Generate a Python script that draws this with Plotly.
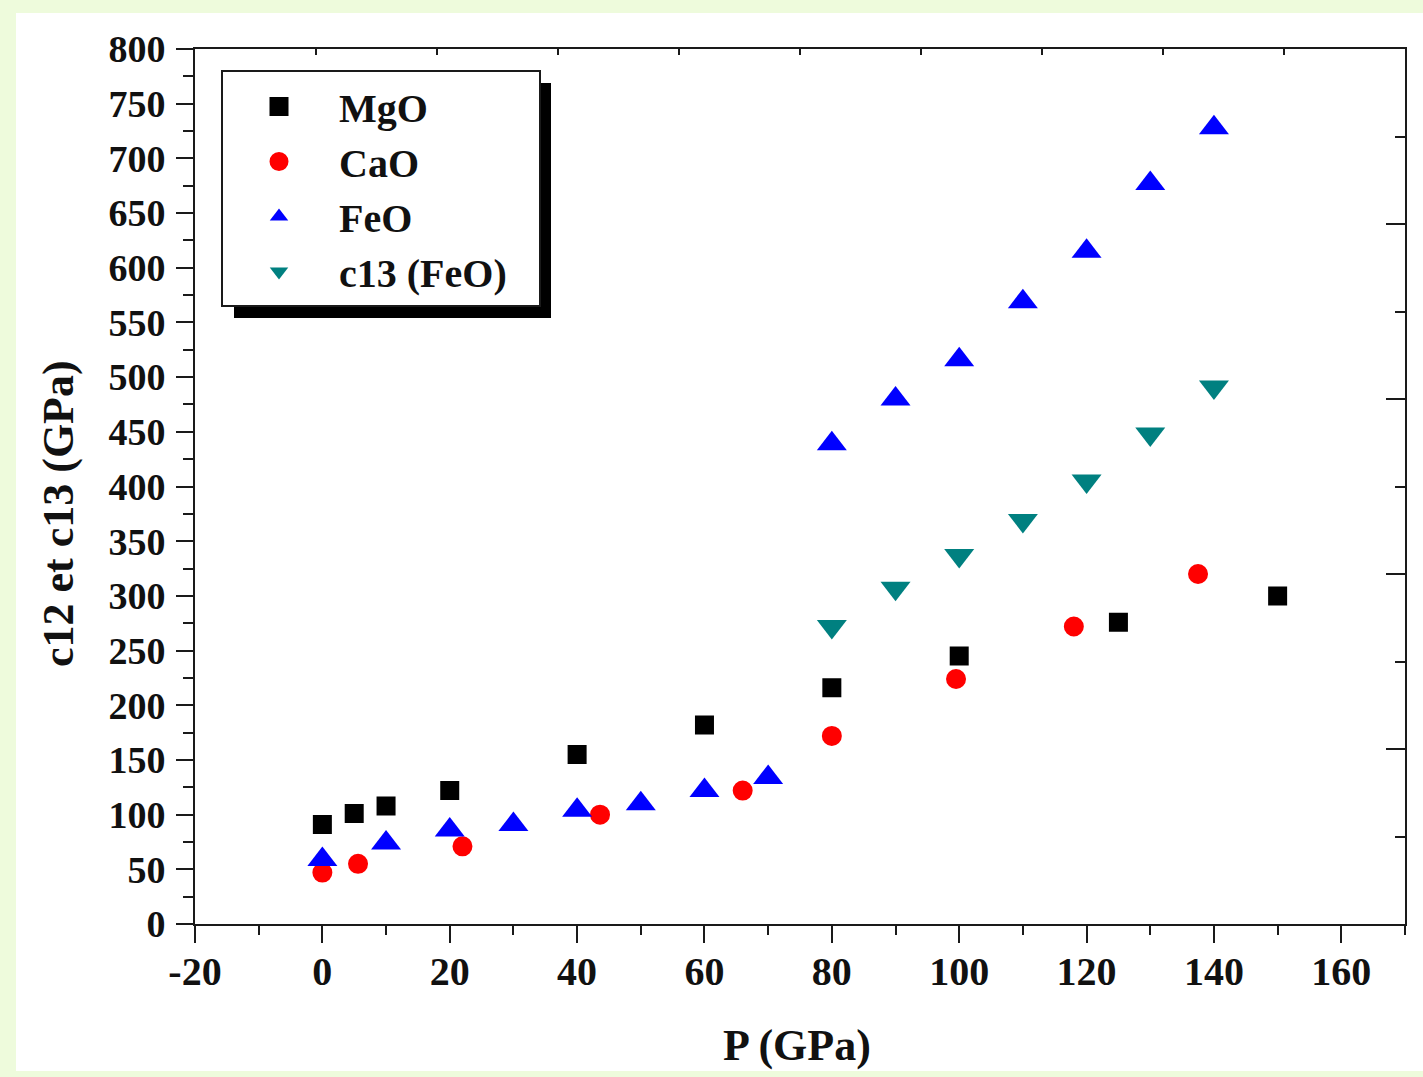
import plotly.graph_objects as go

# Pressure (GPa) and elastic constants c12 / c13 (GPa)
mgo_p = [0, 5, 10, 20, 40, 60, 80, 100, 125, 150]
mgo_c12 = [91, 101, 108, 122, 155, 182, 216, 245, 276, 300]

cao_p = [0, 5.6, 22, 43.6, 66, 80, 99.5, 118, 137.5]
cao_c12 = [47, 55, 71, 100, 122, 172, 224, 272, 320]

feo_p = [0, 10, 20, 30, 40, 50, 60, 70, 80, 90, 100, 110, 120, 130, 140]
feo_c12 = [59, 74, 86, 91, 104, 110, 122, 134, 439, 480, 516, 569, 615, 677, 728]

feo13_p = [80, 90, 100, 110, 120, 130, 140]
feo13_c13 = [272, 307, 337, 369, 405, 448, 491]

x_ticks = [-20, 0, 20, 40, 60, 80, 100, 120, 140, 160]
y_ticks = list(range(0, 801, 50))

W, H = 1423, 1077
ML, MR, MT, MB = 195, 18, 49, 153
PW, PH = W - ML - MR, H - MT - MB

def fx(px):
    return (px - ML) / PW

def fy(py):
    return (H - MB - py) / PH

SERIF = "Liberation Serif"
INK = "#111111"
AX = "#1a1a1a"

fig = go.Figure()
# square/circle markers get a same-colour outline so the legend symbols keep their size
fig.add_trace(go.Scatter(x=mgo_p, y=mgo_c12, mode="markers", name="MgO",
                         marker=dict(symbol="square", size=16, color="#000000",
                                     line=dict(width=3, color="#000000"))))
fig.add_trace(go.Scatter(x=cao_p, y=cao_c12, mode="markers", name="CaO",
                         marker=dict(symbol="circle", size=17, color="#ff0000",
                                     line=dict(width=3, color="#ff0000"))))
fig.add_trace(go.Scatter(x=feo_p, y=feo_c12, mode="markers", name="FeO",
                         marker=dict(symbol="triangle-up", size=26, color="#0000ff", line=dict(width=0))))
fig.add_trace(go.Scatter(x=feo13_p, y=feo13_c13, mode="markers", name="c13 (FeO)",
                         marker=dict(symbol="triangle-down", size=26, color="#008080", line=dict(width=0))))
# carrier for the mirrored top/right frame axes
fig.add_trace(go.Scatter(x=[], y=[], xaxis="x2", yaxis="y2", showlegend=False, hoverinfo="skip"))

tickfont_x = dict(family=SERIF, size=40, color=INK, weight="bold")
tickfont_y = dict(family=SERIF, size=38, color=INK, weight="bold")

fig.update_layout(
    width=W, height=H,
    margin=dict(l=ML, r=MR, t=MT, b=MB),
    paper_bgcolor="#eefbdc",
    plot_bgcolor="#ffffff",
    showlegend=True,
    legend=dict(x=fx(219), y=fy(74), xanchor="left", yanchor="top",
                bgcolor="rgba(0,0,0,0)", borderwidth=0, itemwidth=110,
                font=dict(family=SERIF, size=40, color=INK, weight="bold")),
    xaxis=dict(range=[-20, 170], tickvals=x_ticks, ticktext=[str(v) for v in x_ticks],
               ticks="outside", ticklen=17, tickwidth=2, tickcolor=AX,
               minor=dict(dtick=10, tick0=0, ticks="outside", ticklen=9, tickwidth=2, tickcolor=AX),
               showline=True, linewidth=2, linecolor=AX, showgrid=False, zeroline=False,
               tickfont=tickfont_x, ticklabelstandoff=-6),
    yaxis=dict(range=[0, 800], tickvals=y_ticks, ticktext=[str(v) for v in y_ticks],
               ticks="outside", ticklen=17, tickwidth=2, tickcolor=AX,
               minor=dict(dtick=25, tick0=0, ticks="outside", ticklen=10, tickwidth=2, tickcolor=AX),
               showline=True, linewidth=2, linecolor=AX, showgrid=False, zeroline=False,
               tickfont=tickfont_y, ticklabelstandoff=3),
    xaxis2=dict(overlaying="x", side="top", range=[0, 10], tickvals=list(range(1, 10)),
                ticks="inside", ticklen=6, tickwidth=2, tickcolor=AX, showticklabels=False,
                showline=True, linewidth=2, linecolor=AX, showgrid=False, zeroline=False),
    yaxis2=dict(overlaying="y", side="right", range=[0, 10], tickvals=[2, 4, 6, 8],
                ticks="inside", ticklen=19, tickwidth=2, tickcolor=AX, showticklabels=False,
                minor=dict(dtick=1, tick0=0, ticks="inside", ticklen=10, tickwidth=2, tickcolor=AX),
                showline=True, linewidth=2, linecolor=AX, showgrid=False, zeroline=False),
)

# white page panel behind the chart
fig.add_shape(type="rect", xref="paper", yref="paper", layer="below",
              x0=fx(16), x1=fx(1423), y0=fy(1071), y1=fy(13),
              fillcolor="#ffffff", line=dict(width=0))
# legend frame with drop shadow
fig.add_shape(type="rect", xref="paper", yref="paper", layer="above",
              x0=fx(234), x1=fx(551), y0=fy(318), y1=fy(83),
              fillcolor="#000000", line=dict(width=0))
fig.add_shape(type="rect", xref="paper", yref="paper", layer="above",
              x0=fx(222), x1=fx(540), y0=fy(306), y1=fy(71),
              fillcolor="#ffffff", line=dict(color=AX, width=2))

# axis titles
fig.add_annotation(text="P (GPa)", xref="paper", yref="paper", x=fx(797), y=fy(1045),
                   xanchor="center", yanchor="middle", showarrow=False,
                   font=dict(family=SERIF, size=44, color=INK, weight="bold"))
fig.add_annotation(text="c12 et c13 (GPa)", xref="paper", yref="paper", x=fx(58), y=fy(514),
                   xanchor="center", yanchor="middle", showarrow=False, textangle=-90,
                   font=dict(family=SERIF, size=44, color=INK, weight="bold"))

fig.write_html("out.html")
